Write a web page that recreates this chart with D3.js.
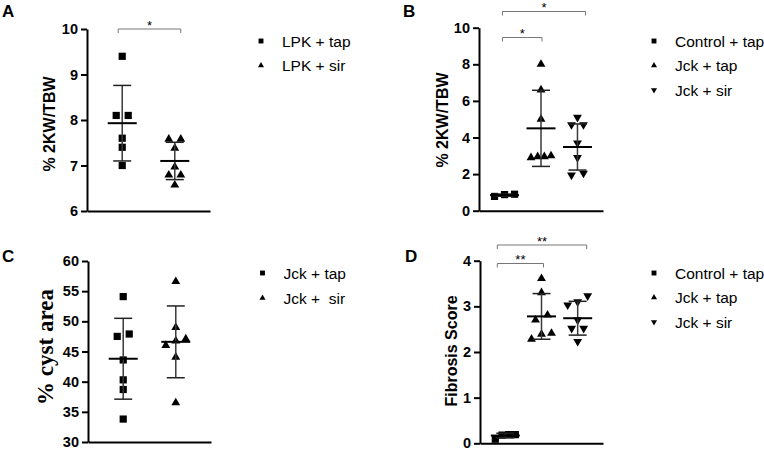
<!DOCTYPE html>
<html><head><meta charset="utf-8">
<script src="https://cdn.jsdelivr.net/npm/d3@7"></script>
<style>
body{margin:0;background:#fff}
svg{display:block}
text{font-family:Arial,"Liberation Sans",sans-serif;fill:#000}
</style>
</head><body>
<svg id="chart" width="764" height="452"></svg>
<script>
// ---------- DATA ----------
// Panel A
const groupsA = ["LPK + tap", "LPK + sir"];
const valuesA = [[9.4, 8.1, 8.1, 7.6, 7.4, 7.0], [7.58, 7.58, 7.38, 6.97, 6.79, 6.79, 6.57]];
const meanA = [7.93, 7.10];
const sdA = [0.83, 0.41];
const ticksA = [6, 7, 8, 9, 10];
const starsA = ["*"];

// Panel B
const groupsB = ["Control + tap", "Jck + tap", "Jck + sir"];
const valuesB = [[0.78, 0.90, 0.88], [8.0, 6.6, 5.0, 2.95, 2.9, 3.0, 2.95], [5.1, 4.7, 4.7, 3.7, 2.9, 1.95, 2.05]];
const meanB = [0.85, 4.50, 3.48];
const sdB = [0.06, 2.08, 1.26];
const ticksB = [0, 2, 4, 6, 8, 10];
const starsB = ["*", "*"];

// Panel C
const groupsC = ["Jck + tap", "Jck +  sir"];
const valuesC = [[54.1, 47.9, 47.5, 43.6, 40.3, 38.7, 33.8], [56.6, 49.0, 47.1, 46.75, 46.0, 44.05, 36.5]];
const meanC = [43.8, 46.6];
const sdC = [6.7, 5.95];
const ticksC = [30, 35, 40, 45, 50, 55, 60];

// Panel D
const groupsD = ["Control + tap", "Jck + tap", "Jck + sir"];
const valuesD = [[0.09, 0.18, 0.19, 0.19], [3.61, 3.30, 2.81, 2.70, 2.39, 2.41, 2.28], [3.23, 3.10, 3.03, 2.70, 2.52, 2.52, 2.23]];
const meanD = [0.17, 2.78, 2.74];
const sdD = [0.05, 0.50, 0.37];
const ticksD = [0, 1, 2, 3, 4];
const starsD = ["**", "**"];

// ---------- DRAW ----------
const svg = d3.select("#chart");

const shapeSquare = d3.symbol().type(d3.symbolSquare);
const shapeTri = d3.symbol().type(d3.symbolTriangle);

function marker(g, kind, x, y, big) {
  if (kind === "sq") {
    g.append("path").attr("d", shapeSquare.size(big ? 52 : 24)()).attr("transform", `translate(${x},${y})`).attr("fill", "#000");
  } else {
    const rot = kind === "dn" ? 180 : 0;
    g.append("path").attr("d", shapeTri.size(big ? 34 : 16)()).attr("transform", `translate(${x},${y}) rotate(${rot})`).attr("fill", "#000");
  }
}

function jitter(vals, y) {
  const idx = vals.map((v, i) => i).sort((a, b) => y(vals[a]) - y(vals[b]));
  const off = new Array(vals.length).fill(0);
  let clusters = [], cur = [idx[0]];
  for (let k = 1; k < idx.length; k++) {
    if (Math.abs(y(vals[idx[k]]) - y(vals[idx[k - 1]])) < 7) cur.push(idx[k]);
    else { clusters.push(cur); cur = [idx[k]]; }
  }
  clusters.push(cur);
  clusters.forEach(c => {
    c.sort((a, b) => vals[a] - vals[b]);
    const n = c.length;
    if (n === 1) return;
    const w = n === 2 ? 12 : 20;
    c.forEach((id, j) => { off[id] = -w / 2 + w * j / (n - 1); });
  });
  return off;
}

function panel(cfg) {
  const g = svg.append("g");
  const y = d3.scaleLinear().domain([cfg.ticks[0], cfg.ticks[cfg.ticks.length - 1]]).range([cfg.yBot, cfg.yTop]);
  const x = d3.scalePoint().domain(cfg.groups).range([cfg.x0, cfg.x1]).padding(cfg.pad);

  // axes
  const ya = g.append("g").attr("transform", `translate(${cfg.x0},0)`)
    .call(d3.axisLeft(y).tickValues(cfg.ticks).tickFormat(d3.format("d")).tickSize(6).tickSizeOuter(0).tickPadding(3));
  const xa = g.append("g").attr("transform", `translate(0,${cfg.yBot})`)
    .call(d3.axisBottom(x).tickValues([]).tickSizeOuter(0));
  [ya, xa].forEach(a => {
    a.select(".domain").attr("stroke", "#000").attr("stroke-width", 2);
  });
  ya.selectAll(".tick line").attr("stroke", "#000").attr("stroke-width", 2);
  ya.selectAll(".tick text").attr("font-size", 14.5).attr("font-weight", "bold")
    .attr("font-family", 'Arial,"Liberation Sans",sans-serif').attr("fill", "#000");

  // y label
  g.append("text")
    .attr("transform", `translate(${cfg.labX},${cfg.labY}) rotate(-90)`)
    .attr("text-anchor", "middle")
    .attr("font-size", cfg.labSize).attr("font-weight", "bold")
    .style("font-family", cfg.labFont)
    .text(cfg.ylabel);

  // panel letter
  g.append("text").attr("x", cfg.letterX).attr("y", cfg.letterY)
    .attr("font-size", 17).attr("font-weight", "bold").text(cfg.letter);

  // points
  cfg.values.forEach((vals, gi) => {
    const off = jitter(vals, y);
    vals.forEach((v, i) => marker(g, cfg.shapes[gi], x(cfg.groups[gi]) + off[i], y(v), true));
  });

  // error bars
  cfg.groups.forEach((grp, gi) => {
    const cx = x(grp), m = cfg.mean[gi], s = cfg.sd[gi];
    g.append("line").attr("x1", cx).attr("x2", cx).attr("y1", y(m + s)).attr("y2", y(m - s))
      .attr("stroke", "#3a3a3a").attr("stroke-width", 1.5);
    [m + s, m - s].forEach(v => g.append("line").attr("x1", cx - 9).attr("x2", cx + 9)
      .attr("y1", y(v)).attr("y2", y(v)).attr("stroke", "#222").attr("stroke-width", 1.5));
    g.append("line").attr("x1", cx - 14.5).attr("x2", cx + 14.5).attr("y1", y(m)).attr("y2", y(m))
      .attr("stroke", "#000").attr("stroke-width", 2);
  });

  // significance brackets
  (cfg.brackets || []).forEach((b, bi) => {
    const xa1 = x(cfg.groups[b.a]) + b.da, xb1 = x(cfg.groups[b.b]) + b.db;
    g.append("path").attr("d", `M${xa1},${b.y + 4}V${b.y}H${xb1}V${b.y + 4}`)
      .attr("fill", "none").attr("stroke", "#777").attr("stroke-width", 1);
    g.append("text").attr("x", (xa1 + xb1) / 2).attr("y", b.y + 0.5)
      .attr("text-anchor", "middle").attr("font-size", 13).attr("fill", "#222").text(cfg.stars[bi]);
  });

  // legend
  cfg.groups.forEach((grp, gi) => {
    const ly = cfg.legY + gi * cfg.legStep;
    marker(g, cfg.shapes[gi], cfg.legX, ly, false);
    g.append("text").attr("x", cfg.legX + 21).attr("y", ly + 5.5)
      .attr("font-size", 15.5).style("white-space", "pre").text(grp);
  });
}

panel({ letter: "A", letterX: 2, letterY: 17, groups: groupsA, values: valuesA, mean: meanA, sd: sdA, ticks: ticksA,
  stars: starsA, shapes: ["sq", "up"], ylabel: "% 2KW/TBW", labX: 55, labY: 124, labSize: 16,
  labFont: 'Arial,"Liberation Sans",sans-serif',
  x0: 87, x1: 210, yTop: 29, yBot: 211, pad: 0.67,
  brackets: [{ a: 0, b: 1, da: -4, db: 6, y: 29 }],
  legX: 261, legY: 41, legStep: 24.5 });

panel({ letter: "B", letterX: 403, letterY: 17, groups: groupsB, values: valuesB, mean: meanB, sd: sdB, ticks: ticksB,
  stars: starsB, shapes: ["sq", "up", "dn"], ylabel: "% 2KW/TBW", labX: 448, labY: 120, labSize: 16,
  labFont: 'Arial,"Liberation Sans",sans-serif',
  x0: 479, x1: 603, yTop: 27.7, yBot: 210.7, pad: 0.7,
  brackets: [{ a: 0, b: 1, da: -2, db: 1, y: 37.5 }, { a: 0, b: 2, da: -2, db: 8, y: 11.5 }],
  legX: 654, legY: 41, legStep: 24.5 });

panel({ letter: "C", letterX: 2, letterY: 262, groups: groupsC, values: valuesC, mean: meanC, sd: sdC, ticks: ticksC,
  stars: [], shapes: ["sq", "up"], ylabel: "% cyst area", labX: 53, labY: 347, labSize: 23,
  labFont: '"Liberation Serif","Times New Roman",serif',
  x0: 88, x1: 211, yTop: 261, yBot: 442, pad: 0.67,
  legX: 262.5, legY: 273, legStep: 25 });

panel({ letter: "D", letterX: 405, letterY: 262, groups: groupsD, values: valuesD, mean: meanD, sd: sdD, ticks: ticksD,
  stars: starsD, shapes: ["sq", "up", "dn"], ylabel: "Fibrosis Score", labX: 457, labY: 351, labSize: 16,
  labFont: 'Arial,"Liberation Sans",sans-serif',
  x0: 480, x1: 603, yTop: 260.7, yBot: 443.3, pad: 0.7,
  brackets: [{ a: 0, b: 1, da: -8, db: 2, y: 263.5 }, { a: 0, b: 2, da: -8, db: 9, y: 245 }],
  legX: 654, legY: 273, legStep: 24.5 });
</script>
</body></html>
